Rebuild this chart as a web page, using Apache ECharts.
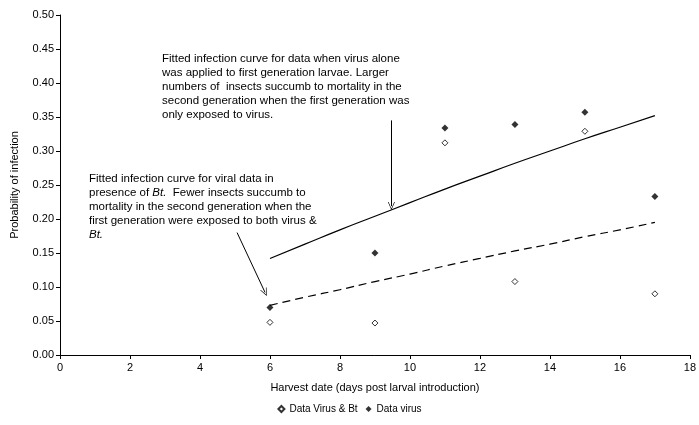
<!DOCTYPE html>
<html>
<head>
<meta charset="utf-8">
<script src="https://cdn.jsdelivr.net/npm/echarts@6/dist/echarts.min.js"></script>
<style>
  html, body { margin: 0; padding: 0; background: #fff; }
  #chart { width: 699px; height: 425px; }
</style>
</head>
<body>
<div id="chart"></div>
<script>
// harvest days and observed infection probabilities
const days = [6, 9, 11, 13, 15, 17];
const virusBt = [0.048, 0.047, 0.312, 0.108, 0.329, 0.090];
const virusOnly = [0.070, 0.150, 0.334, 0.339, 0.357, 0.233];

// fitted curves
const fitDays = [6, 7, 8, 9, 10, 11, 12, 13, 14, 15, 16, 17];
const fitVirus = [0.142, 0.163, 0.184, 0.204, 0.224, 0.244, 0.263, 0.282, 0.300, 0.318, 0.335, 0.352];
const fitVirusBt = [0.073, 0.085, 0.096, 0.108, 0.119, 0.131, 0.142, 0.153, 0.163, 0.174, 0.184, 0.195];

const seriesNames = ["Data Virus & Bt", "Data virus"];

const FONT = "Liberation Sans, Arial, sans-serif";

const chart = echarts.init(document.getElementById("chart"));

const zip = (xs, ys) => xs.map((x, i) => [x, ys[i]]);

// open "v" arrow head for the annotation pointers
const openArrow = "path://M0,10 L5,0 L10,10 L9,10 L5,2 L1,10 Z";

const option = {
  animation: false,
  textStyle: { fontFamily: FONT, color: "#000" },
  grid: { left: 60, right: 8, top: 15, bottom: 70 },
  xAxis: {
    type: "value",
    min: 0,
    max: 18,
    interval: 2,
    name: "Harvest date (days post larval introduction)",
    nameLocation: "middle",
    nameGap: 27,
    nameTextStyle: { fontSize: 11, color: "#000", fontFamily: FONT },
    axisLine: { lineStyle: { color: "#000", width: 1 } },
    axisTick: { show: true, length: 4, lineStyle: { color: "#000" } },
    axisLabel: { fontSize: 11, color: "#000", margin: 7 },
    splitLine: { show: false },
  },
  yAxis: {
    type: "value",
    min: 0,
    max: 0.5,
    interval: 0.05,
    name: "Probability of infection",
    nameLocation: "middle",
    nameGap: 40,
    nameTextStyle: { fontSize: 11, color: "#000", fontFamily: FONT },
    axisLine: { show: true, lineStyle: { color: "#000", width: 1 } },
    axisTick: { show: true, length: 4, lineStyle: { color: "#000" } },
    axisLabel: {
      fontSize: 11,
      color: "#000",
      margin: 6,
      formatter: (v) => v.toFixed(2),
    },
    splitLine: { show: false },
  },
  legend: {
    data: seriesNames,
    bottom: 6,
    left: "center",
    itemWidth: 6,
    itemHeight: 6,
    itemGap: 8,
    textStyle: { fontSize: 10, color: "#000", fontFamily: FONT },
  },
  series: [
    {
      name: seriesNames[0],
      type: "scatter",
      symbol: "diamond",
      symbolSize: 6,
      itemStyle: { color: "#fff", borderColor: "#000", borderWidth: 1 },
      data: zip(days, virusBt),
      z: 5,
    },
    {
      name: seriesNames[1],
      type: "scatter",
      symbol: "diamond",
      symbolSize: 7,
      itemStyle: { color: "#000" },
      data: zip(days, virusOnly),
      z: 5,
    },
    {
      name: "fit virus",
      type: "line",
      smooth: true,
      showSymbol: false,
      lineStyle: { color: "#000", width: 1.2 },
      data: zip(fitDays, fitVirus),
      markLine: {
        silent: true,
        symbol: ["none", openArrow],
        symbolSize: [7, 8],
        label: { show: false },
        lineStyle: { color: "#000", width: 1, type: "solid" },
        data: [[{ coord: [9.47, 0.345] }, { coord: [9.47, 0.219] }]],
      },
    },
    {
      name: "fit virus & Bt",
      type: "line",
      smooth: true,
      showSymbol: false,
      lineStyle: { color: "#000", width: 1.2, type: [8, 5] },
      data: zip(fitDays, fitVirusBt),
      markLine: {
        silent: true,
        symbol: ["none", openArrow],
        symbolSize: [7, 8],
        label: { show: false },
        lineStyle: { color: "#000", width: 1, type: "solid" },
        data: [[{ coord: [5.06, 0.180] }, { coord: [5.86, 0.092] }]],
      },
    },
  ],
  graphic: [
    {
      type: "text",
      left: 162,
      top: 52,
      style: {
        text:
          "Fitted infection curve for data when virus alone\n" +
          "was applied to first generation larvae. Larger\n" +
          "numbers of  insects succumb to mortality in the\n" +
          "second generation when the first generation was\n" +
          "only exposed to virus.",
        font: "11.5px " + FONT,
        lineHeight: 14,
        fill: "#000",
      },
    },
    {
      type: "text",
      left: 89,
      top: 173,
      style: {
        rich: {
          n: { font: "11.5px " + FONT, lineHeight: 14, fill: "#000" },
          i: { font: "italic 11.5px " + FONT, lineHeight: 14, fill: "#000" },
        },
        text:
          "{n|Fitted infection curve for viral data in}\n" +
          "{n|presence of }{i|Bt.}{n|  Fewer insects succumb to}\n" +
          "{n|mortality in the second generation when the}\n" +
          "{n|first generation were exposed to both virus &}\n" +
          "{i|Bt.}",
      },
    },
  ],
};

chart.setOption(option);
</script>
</body>
</html>
